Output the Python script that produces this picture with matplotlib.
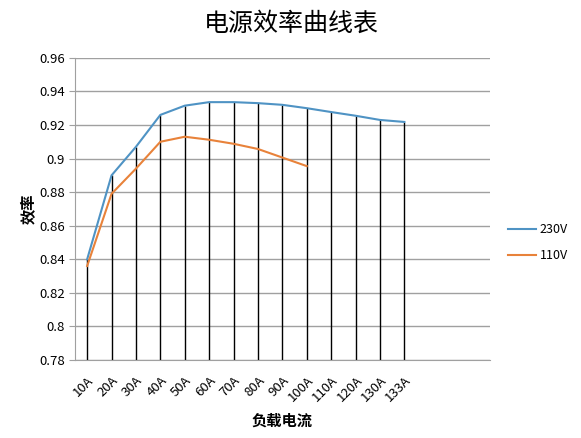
import numpy as np
import matplotlib
matplotlib.use("Agg")
import matplotlib.pyplot as plt

plt.rcParams['font.family'] = ['Noto Sans CJK SC', 'DejaVu Sans']
plt.rcParams['axes.unicode_minus'] = False

# data
loads = ["10A", "20A", "30A", "40A", "50A", "60A", "70A", "80A", "90A",
         "100A", "110A", "120A", "130A", "133A"]
eff_230 = [0.840, 0.890, 0.907, 0.926, 0.9315, 0.9336, 0.9336, 0.933, 0.932,
           0.930, 0.9277, 0.9255, 0.923, 0.9218]
eff_110 = [0.836, 0.879, 0.894, 0.910, 0.913, 0.9112, 0.9088, 0.9057, 0.9006,
           0.8955]
n_slots = 17   # chart area has 3 blank category slots on the right

x = np.arange(len(loads))
fig = plt.figure(figsize=(5.81, 4.38), dpi=100)
ax = fig.add_axes([0.129, 0.178, 0.714, 0.690])

ax.set_ylim(0.78, 0.96)
ax.set_xlim(-0.5, n_slots - 0.5)
ax.set_yticks(np.arange(0.78, 0.961, 0.02))
ax.set_yticklabels(["0.78", "0.8", "0.82", "0.84", "0.86", "0.88", "0.9",
                    "0.92", "0.94", "0.96"])
ax.grid(axis="y", color="#a0a0a0", linewidth=1.0)
ax.set_axisbelow(True)

# drop lines from the higher of the two series down to the axis
tops = [max(a, b) if i < len(eff_110) else a
        for i, (a, b) in enumerate(zip(eff_230, eff_110 + [0] * len(loads)))]
ax.vlines(x, 0.78, tops, color="black", linewidth=1.0, zorder=2)

ax.plot(x, eff_230, color="#4f93c4", linewidth=1.5, label="230V", zorder=3)
ax.plot(np.arange(len(eff_110)), eff_110, color="#e8823a", linewidth=1.5,
        label="110V", zorder=3)

ax.set_xticks(x)
ax.set_xticklabels(loads, rotation=45, ha="right", rotation_mode="anchor",
                   fontsize=9.5)
ax.tick_params(axis="x", length=0, pad=10)
ax.tick_params(axis="y", length=4, color="#a0a0a0", labelsize=9.5, pad=3)

for s in ["top", "right"]:
    ax.spines[s].set_visible(False)
ax.spines["left"].set_color("#a0a0a0")
ax.spines["bottom"].set_color("#a0a0a0")

ax.set_xlabel("负载电流", fontsize=11, fontweight="bold", labelpad=6)
ax.set_ylabel("效率", fontsize=11, fontweight="bold", labelpad=2)
fig.suptitle("电源效率曲线表", fontsize=18, x=0.502, y=0.975)

fig.legend(loc="center left", bbox_to_anchor=(0.875, 0.446), frameon=False,
           fontsize=9, handlelength=2.2, handletextpad=0.3, labelspacing=1.0,
           borderpad=0, borderaxespad=0)

fig.savefig("out.png", dpi=100)
